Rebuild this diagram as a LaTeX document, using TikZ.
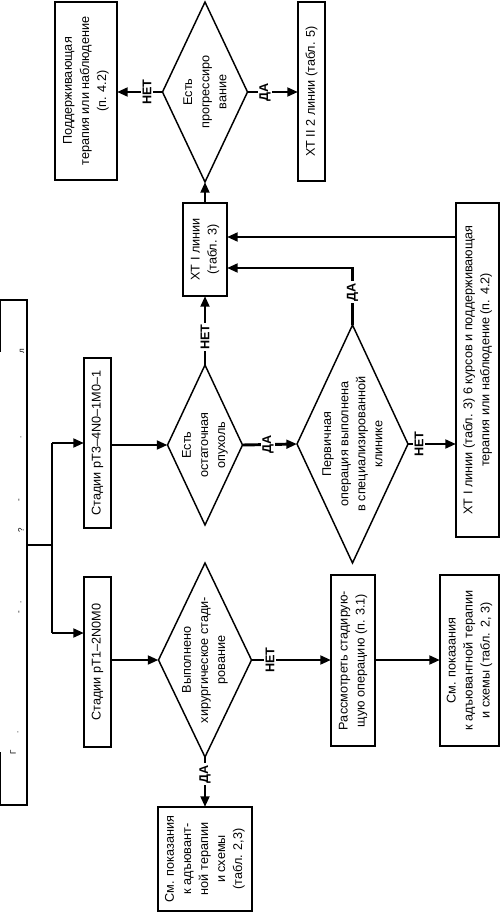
\documentclass[tikz,border=0pt]{standalone}
\usepackage{fontspec}
\setmainfont{Liberation Sans}
\usetikzlibrary{shapes.geometric,arrows.meta}
\begin{document}
\begin{tikzpicture}[x=0.75pt,y=-0.75pt,
  box/.style={draw,line width=2.2pt,inner sep=0pt,outer sep=0pt},
  dia/.style={draw,diamond,line width=1.1pt,inner sep=0pt,outer sep=0pt},
  txt/.style={rotate=90,align=center,inner sep=0pt,font=\fontsize{9.5}{12.8}\selectfont},
  lbl/.style={rotate=90,fill=white,inner sep=1.2pt,font=\bfseries\fontsize{9.5}{11}\selectfont},
  frag/.style={rotate=90,inner sep=0pt,font=\fontsize{6}{6}\selectfont},
  conn/.style={line width=2.2pt},
  arr/.style={-{Triangle[length=8pt,width=6.5pt]}}
]
\useasboundingbox (0,0) rectangle (501,913);
% left, partly cut box
\draw[conn] (0,352) -- (0,300) -- (27,300) -- (27,805) -- (0,805) -- (0,752);
\node[inner sep=0pt,minimum width=27*0.75pt,minimum height=505*0.75pt] (l0) at (13.5,552.5) {};
\node[frag] (f1) at (22,351) {л};
\node[frag] (f2) at (21,437) {.};
\node[frag] (f3) at (20,500) {-};
\node[frag] (f4) at (21,530) {?};
\node[frag] (f5) at (21,602) {.};
\node[frag] (f6) at (20,612) {-};
\node[frag] (f7) at (18,732) {.};
\node[frag] (f8) at (13,752) {Г};
% stage boxes
\node[box,minimum width=27*0.75pt,minimum height=170*0.75pt] (pt3) at (97.5,443) {};
\node[txt] (pt3t) at (pt3) {Стадии pT3–4N0–1M0–1};
\node[box,minimum width=27*0.75pt,minimum height=170*0.75pt] (pt1) at (97.5,662) {};
\node[txt] (pt1t) at (pt1) {Стадии pT1–2N0M0};
% other boxes
\node[box,minimum width=44*0.75pt,minimum height=93*0.75pt] (xt1) at (205,249.5) {};
\node[txt] (xt1t) at (xt1) {ХТ I линии\\(табл. 3)};
\node[box,minimum width=62*0.75pt,minimum height=178*0.75pt] (sup) at (86,91) {};
\node[txt] (supt) at (sup) {Поддерживающая\\терапия или наблюдение\\(п. 4.2)};
\node[box,minimum width=27*0.75pt,minimum height=179*0.75pt] (xt2) at (311.5,91.5) {};
\node[txt] (xt2t) at (xt2) {ХТ II 2 линии (табл. 5)};
\node[box,minimum width=43*0.75pt,minimum height=334*0.75pt] (b6) at (477.5,370) {};
\node[txt] (b6t) at (b6) {ХТ I линии (табл. 3) 6 курсов и поддерживающая\\терапия или наблюдение (п. 4.2)};
\node[box,minimum width=44*0.75pt,minimum height=171*0.75pt] (ras) at (353,660.5) {};
\node[txt] (rast) at (ras) {Рассмотреть стадирую-\\щую операцию (п. 3.1)};
\node[box,minimum width=59*0.75pt,minimum height=171*0.75pt] (smr) at (469.5,660.5) {};
\node[txt] (smrt) at (smr) {См. показания\\к адъювантной терапии\\и схемы (табл. 2, 3)};
\node[box,minimum width=94*0.75pt,minimum height=104*0.75pt] (smb) at (205,859) {};
\node[txt] (smbt) at (smb) {См. показания\\к адъювант-\\ной терапии\\и схемы\\(табл. 2,3)};
% diamonds
\node[dia,minimum width=85*0.75pt,minimum height=180*0.75pt] (d2) at (205,92) {};
\node[txt] (d2t) at (d2) {Есть\\прогрессиро\\вание};
\node[dia,minimum width=75*0.75pt,minimum height=160*0.75pt] (d1) at (205,445) {};
\node[txt] (d1t) at (d1) {Есть\\остаточная\\опухоль};
\node[dia,minimum width=111*0.75pt,minimum height=238*0.75pt] (d4) at (352.5,444) {};
\node[txt] (d4t) at (d4) {Первичная\\операция выполнена\\в специализированной\\клинике};
\node[dia,minimum width=93*0.75pt,minimum height=194*0.75pt] (d3) at (205,660) {};
\node[txt] (d3t) at (d3) {Выполнено\\хирургическое стади-\\рование};
% connectors
\coordinate (j0) at (52,545);
\coordinate (j1) at (52,443);
\coordinate (j2) at (52,633);
\draw[conn] (l0.east |- j0) -- (j0);
\draw[conn] (j1) -- (j2);
\draw[conn,arr] (j1) -- (j1 -| pt3.west);
\draw[conn,arr] (j2) -- (j2 -| pt1.west);
\draw[conn,arr] (pt3.east |- d1.west) -- (d1.west);
\draw[conn,arr] (pt1.east |- d3.west) -- (d3.west);
\draw[conn,arr] (d1.north) -- (xt1.south);
\node[lbl] (n1) at (205,337) {НЕТ};
\draw[conn,arr] (xt1.north) -- (d2.south);
\draw[conn,arr] (d2.west) -- (sup.east |- d2.west);
\node[lbl] (n2) at (147,92) {НЕТ};
\draw[conn,arr] (d2.east) -- (xt2.west |- d2.east);
\node[lbl] (n3) at (265,92) {ДА};
\draw[conn,arr] (d1.east) -- (d4.west);
\node[lbl] (n4) at (268,444) {ДА};
\coordinate (k1) at (352.5,268);
\draw[conn,arr] (d4.north) -- (k1) -- (k1 -| xt1.east);
\node[lbl] (n5) at (352.5,292) {ДА};
\coordinate (k2) at (456,237);
\draw[conn,arr] (k2 -| b6.west) -- (k2 -| xt1.east);
\draw[conn,arr] (d4.east) -- (d4.east -| b6.west);
\node[lbl] (n6) at (419,444) {НЕТ};
\draw[conn,arr] (d3.east) -- (d3.east -| ras.west);
\node[lbl] (n7) at (270,660) {НЕТ};
\draw[conn,arr] (ras.east |- d3.east) -- (d3.east -| smr.west);
\draw[conn,arr] (d3.south) -- (smb.north);
\node[lbl] (n8) at (205,774) {ДА};
\end{tikzpicture}
\end{document}
